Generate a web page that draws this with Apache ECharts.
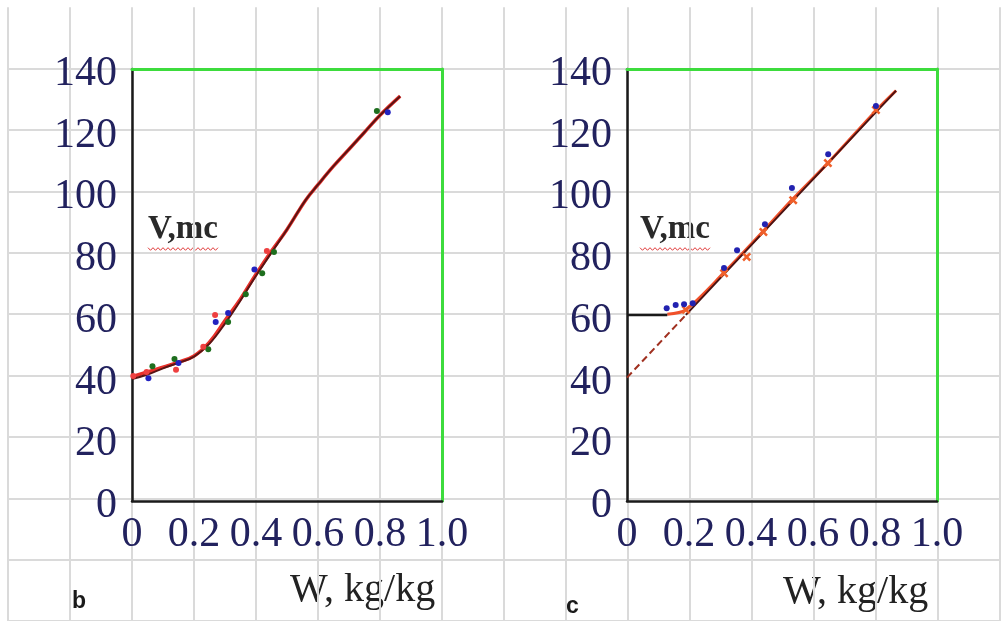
<!DOCTYPE html>
<html>
<head>
<meta charset="utf-8">
<script src="https://cdn.jsdelivr.net/npm/echarts@6/dist/echarts.min.js"></script>
<style>
  html, body { margin: 0; padding: 0; background: #fff; }
  #main { width: 1002px; height: 621px; }
</style>
</head>
<body>
<div id="main"></div>
<script>
// tick labels
var xTicks = [0, 0.2, 0.4, 0.6, 0.8, 1.0];
var yTicks = [0, 20, 40, 60, 80, 100, 120, 140];

// panel b: fitted curve + measured points
var curveB = [[0, 39.5], [0.05, 41], [0.1, 43], [0.15, 44.8], [0.2, 46.8], [0.25, 51], [0.3, 57.5],
  [0.35, 65], [0.4, 73], [0.45, 80.5], [0.5, 88], [0.56, 97.5], [0.6, 102.5], [0.65, 108.5],
  [0.7, 114], [0.75, 119.5], [0.8, 125], [0.865, 131.2]];
var redB = [[0, 40.3], [0.05, 41.8], [0.1, 43.4], [0.15, 45], [0.2, 47], [0.25, 51.5], [0.3, 58.5],
  [0.35, 65.5], [0.4, 73.5], [0.45, 81], [0.5, 88], [0.56, 97.5], [0.6, 102.5], [0.65, 108.5],
  [0.7, 114], [0.75, 119.5], [0.8, 125], [0.865, 131.2]];
var greenB = [[0.066, 43.7], [0.137, 46], [0.246, 49.2], [0.31, 58], [0.367, 67], [0.42, 73.8], [0.458, 80.7], [0.79, 126.4]];
var blueB = [[0.053, 39.8], [0.15, 44.7], [0.27, 58], [0.31, 60.9], [0.395, 75], [0.825, 126]];
var redPtsB = [[0.004, 40.5], [0.047, 41.8], [0.142, 42.5], [0.23, 50], [0.268, 60.3], [0.435, 81]];

// panel c: straight fit, extrapolation, plateau
var fitC = [[0.19, 60.3], [0.868, 133]];
var dashC = [[0, 40], [0.19, 60.3]];
var flatC = [[0, 60.3], [0.13, 60.3]];
var redC = [[0.13, 60.5], [0.19, 62], [0.313, 74], [0.44, 87.5], [0.536, 98], [0.648, 109.5], [0.803, 126.5], [0.868, 133]];
var blueC = [[0.128, 62.5], [0.157, 63.5], [0.184, 63.8], [0.212, 64.1], [0.313, 75.5], [0.355, 81.3], [0.445, 89.7], [0.532, 101.4], [0.649, 112.4], [0.803, 128]];
var crossC = [[0.19, 62], [0.313, 73.8], [0.386, 79.1], [0.44, 87.2], [0.536, 97.5], [0.648, 109.5], [0.803, 126.7]];

var navy = '#22225e';
var green = '#3ddc3d';
var serif = '"Liberation Serif", "Times New Roman", serif';
var crossPath = 'path://M0,2L2,0L5,3L8,0L10,2L7,5L10,8L8,10L5,7L2,10L0,8L3,5Z';

function fmtX(v) {
  if (v === 0) return '0';
  return v.toFixed(1);
}

// 坐标轴（每个面板四根：下/左黑色，上/右绿色）
function panelAxes(idx) {
  var xs = [{
    gridIndex: idx, type: 'value', min: 0, max: 1, interval: 0.2,
    axisLine: { show: true, onZero: false, lineStyle: { color: '#1a1a1a', width: 2.5 } },
    axisTick: { show: false }, splitLine: { show: false },
    axisLabel: { margin: 13, color: navy, fontFamily: serif, fontSize: 42, formatter: fmtX,
      customValues: xTicks, showMinLabel: true, showMaxLabel: true }
  }, {
    gridIndex: idx, type: 'value', min: 0, max: 1, position: 'top',
    axisLine: { show: true, onZero: false, lineStyle: { color: green, width: 3 } },
    axisTick: { show: false }, axisLabel: { show: false }, splitLine: { show: false }
  }];
  var ys = [{
    gridIndex: idx, type: 'value', min: 0, max: 140, interval: 20,
    axisLine: { show: true, onZero: false, lineStyle: { color: '#1a1a1a', width: 2.5 } },
    axisTick: { show: false }, splitLine: { show: false },
    axisLabel: { margin: 15, color: navy, fontFamily: serif, fontSize: 42, customValues: yTicks,
      formatter: function (v) { return '{a|' + v + '}'; },
      rich: { a: { color: navy, fontFamily: serif, fontSize: 42, padding: [10, 0, 0, 0] } } }
  }, {
    gridIndex: idx, type: 'value', min: 0, max: 140, position: 'right',
    axisLine: { show: true, onZero: false, lineStyle: { color: green, width: 3 } },
    axisTick: { show: false }, axisLabel: { show: false }, splitLine: { show: false }
  }];
  return { xs: xs, ys: ys };
}

var pb = panelAxes(1);
var pc = panelAxes(2);

// 红色波浪下划线
function wavy(x0, x1, y) {
  var pts = [];
  var k = 0;
  for (var x = x0; x <= x1; x += 2.5) {
    pts.push([x, y + (k % 2 === 0 ? -1.3 : 1.3)]);
    k++;
  }
  return {
    type: 'polyline', shape: { points: pts },
    style: { stroke: '#e03a3a', lineWidth: 1, fill: null }
  };
}

// 文字，y 为文字框顶部
function label(x, y, text, font, color) {
  return {
    type: 'text', x: x, y: y,
    style: { text: text, font: font, fill: color || '#222', verticalAlign: 'top' }
  };
}

function scat(xi, yi, data, color, symbol, size) {
  return {
    type: 'scatter', xAxisIndex: xi, yAxisIndex: yi, data: data,
    symbol: symbol || 'circle', symbolSize: size || 6,
    itemStyle: { color: color, opacity: 1 }, z: 4
  };
}

function line(xi, yi, data, color, width, extra) {
  var s = {
    type: 'line', xAxisIndex: xi, yAxisIndex: yi, data: data, showSymbol: false,
    lineStyle: { color: color, width: width }, z: 3
  };
  for (var k in extra) s[k] = extra[k];
  return s;
}

var chart = echarts.init(document.getElementById('main'));
var option = {
  animation: false,
  backgroundColor: '#fff',
  grid: [
    { left: 8, top: 7.3, width: 992, height: 617 },   // 背景表格
    { left: 132, top: 69, width: 310, height: 432 },  // b
    { left: 627, top: 69, width: 310, height: 432 }   // c
  ],
  xAxis: [{
    gridIndex: 0, type: 'value', min: 0, max: 16, interval: 1,
    axisLine: { show: false }, axisTick: { show: false }, axisLabel: { show: false },
    splitLine: { show: true, lineStyle: { color: '#dadada', width: 2 } }
  }].concat(pb.xs, pc.xs),
  yAxis: [{
    gridIndex: 0, type: 'value', min: 0, max: 10, interval: 1, inverse: true,
    axisLine: { show: false }, axisTick: { show: false }, axisLabel: { show: false },
    splitLine: { show: true, showMinLine: false, lineStyle: { color: '#dadada', width: 2 } }
  }].concat(pb.ys, pc.ys),
  series: [
    // b
    line(1, 1, redB, '#e8302a', 3.5, { smooth: 0.4 }),
    line(1, 1, curveB, '#5a1414', 2, { smooth: 0.4 }),
    scat(1, 1, greenB, '#1e6e1e'),
    scat(1, 1, blueB, '#2222c0'),
    scat(1, 1, redPtsB, '#ee4040'),
    // c
    line(3, 3, redC, '#f0502a', 3, { smooth: 0.3 }),
    line(3, 3, fitC, '#4a1212', 2),
    line(3, 3, dashC, '#a03020', 2, { lineStyle: { color: '#a03020', width: 2, type: [7, 4] } }),
    line(3, 3, flatC, '#1a1a1a', 2.5),
    scat(3, 3, crossC, '#f0602a', crossPath, 9),
    scat(3, 3, blueC, '#2222b0')
  ],
  graphic: [
    label(148, 213, 'V,mc', 'bold 33px ' + serif, '#2a2a2a'),
    wavy(148, 220, 249),
    label(640, 213, 'V,mc', 'bold 33px ' + serif, '#2a2a2a'),
    wavy(640, 712, 249),
    label(290, 570, 'W, kg/kg', '40px ' + serif),
    label(783, 572, 'W, kg/kg', '40px ' + serif),
    label(72, 590, 'b', 'bold 23px "Liberation Sans", Arial, sans-serif', '#1a1a1a'),
    label(566, 595, 'c', 'bold 23px "Liberation Sans", Arial, sans-serif', '#1a1a1a')
  ]
};
chart.setOption(option);

window.addEventListener('resize', function () {
  chart.resize();
});
</script>
</body>
</html>
